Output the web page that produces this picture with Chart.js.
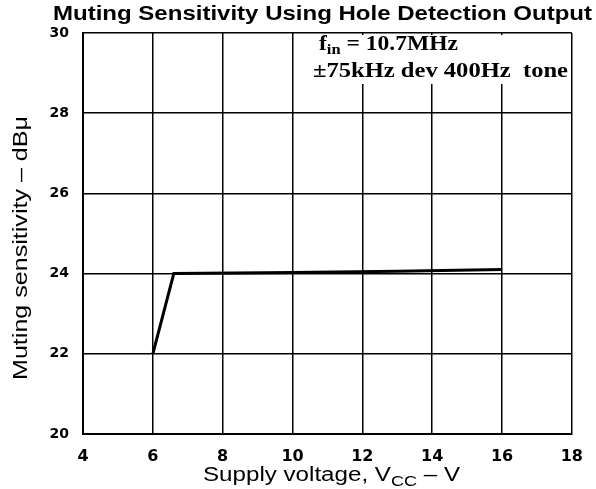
<!DOCTYPE html>
<html>
<head>
<meta charset="utf-8">
<title>Muting Sensitivity Using Hole Detection Output</title>
<script src="https://cdn.jsdelivr.net/npm/chart.js@4/dist/chart.umd.min.js"></script>
<style>
  html, body { margin: 0; padding: 0; background: #fff; }
  canvas { display: block; }
</style>
</head>
<body>
<canvas id="chart" width="596" height="489"></canvas>
<script>
// supply voltage (V) and muting sensitivity (dBμ)
const supplyVoltage = [6, 6.6, 10, 13, 16];
const mutingSensitivity = [22, 24, 24.03, 24.06, 24.1];

const xTicks = [4, 6, 8, 10, 12, 14, 16, 18];
const yTicks = [20, 22, 24, 26, 28, 30];

const titleText = 'Muting Sensitivity Using Hole Detection Output';
const yTitle = 'Muting sensitivity – dBμ';

const SANS = '"Liberation Sans", Arial, sans-serif';
const SERIF = '"Liberation Serif", "Times New Roman", serif';

// draws a run of [text, font, dy] pieces starting at x, stretched to the given width
function drawRun(ctx, parts, x, y, width) {
    let w = 0;
    parts.forEach(p => { ctx.font = p[1]; w += ctx.measureText(p[0]).width; });
    ctx.save();
    ctx.translate(x, y);
    ctx.scale(width / w, 1);
    let cx = 0;
    parts.forEach(p => {
        ctx.font = p[1];
        ctx.fillText(p[0], cx, p[2] || 0);
        cx += ctx.measureText(p[0]).width;
    });
    ctx.restore();
}

// titles, axis captions and the condition note
const textPlugin = {
    id: 'chartText',
    afterDraw(chart) {
        const ctx = chart.ctx;
        const area = chart.chartArea;
        ctx.save();
        ctx.fillStyle = '#000';
        ctx.textAlign = 'left';
        ctx.textBaseline = 'alphabetic';

        drawRun(ctx, [[titleText, 'bold 20px ' + SANS]], 53, 19.5, 539);

        // rotated y caption
        ctx.save();
        ctx.translate(27, 248);
        ctx.rotate(-Math.PI / 2);
        drawRun(ctx, [[yTitle, '20px ' + SANS]], -132, 0, 264);
        ctx.restore();

        // x caption with subscript
        drawRun(ctx, [
            ['Supply voltage, V', '20px ' + SANS],
            ['CC', '15px ' + SANS, 5],
            [' – V', '20px ' + SANS]
        ], 203, 481, 257);

        // condition note sits on a blank patch in the top right of the grid
        ctx.fillStyle = '#fff';
        ctx.fillRect(299, area.top + 2, area.right - area.left - 218 - 1, 49);
        ctx.fillStyle = '#000';
        drawRun(ctx, [
            ['f', 'bold 20px ' + SERIF],
            ['in', 'bold 14px ' + SERIF, 4],
            [' = 10.7MHz', 'bold 20px ' + SERIF]
        ], 319, 50, 139);
        drawRun(ctx, [['±75kHz dev 400Hz  tone', 'bold 20px ' + SERIF]], 313, 77, 255);
        ctx.restore();
    }
};

new Chart(document.getElementById('chart'), {
    type: 'line',
    data: {
        datasets: [{
            data: supplyVoltage.map((v, i) => ({ x: v, y: mutingSensitivity[i] })),
            borderColor: '#000',
            borderWidth: 3,
            pointRadius: 0,
            tension: 0,
            fill: false
        }]
    },
    options: {
        responsive: false,
        animation: false,
        layout: { padding: { left: 0, top: 33, right: 19, bottom: 0 } },
        plugins: {
            legend: { display: false },
            tooltip: { enabled: false }
        },
        scales: {
            x: {
                type: 'linear',
                min: 4,
                max: 18,
                afterBuildTicks: scale => { scale.ticks = xTicks.map(v => ({ value: v })); },
                afterFit: scale => { scale.height = 55; },
                ticks: {
                    color: '#000',
                    font: { family: '"DejaVu Sans", sans-serif', size: 16, weight: 'bold' },
                    padding: 13,
                    maxRotation: 0
                },
                grid: { color: '#000', lineWidth: 1.5, drawTicks: false },
                border: { color: '#000', width: 2 }
            },
            y: {
                min: 20,
                max: 30,
                afterBuildTicks: scale => { scale.ticks = yTicks.map(v => ({ value: v })); },
                afterFit: scale => { scale.width = 83; },
                ticks: {
                    color: '#000',
                    font: { family: '"DejaVu Sans", sans-serif', size: 14, weight: 'bold' },
                    padding: 14
                },
                grid: { color: '#000', lineWidth: 1.5, drawTicks: false },
                border: { color: '#000', width: 2 }
            }
        }
    },
    plugins: [textPlugin]
});
</script>
</body>
</html>
